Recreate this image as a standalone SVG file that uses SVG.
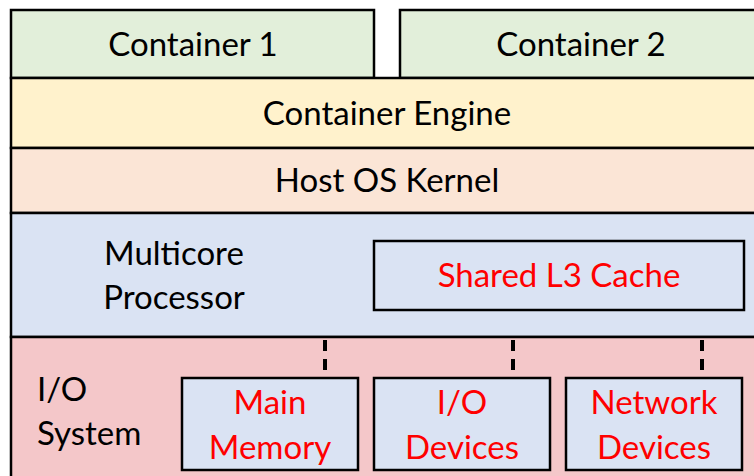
<svg xmlns="http://www.w3.org/2000/svg" width="754" height="476" viewBox="0 0 754 476">
<style>
.b{stroke:#000;stroke-width:2.5}
.t{font-family:Lato,"Open Sans","Liberation Sans",sans-serif;font-size:33px;fill:#000}
.r{fill:#FF0000}
.m{text-anchor:middle}
.d{stroke:#000;stroke-width:4;stroke-dasharray:11,8;fill:none}
</style>
<rect width="754" height="476" fill="#fff"/>
<g id="container1"><rect class="b" x="11" y="10" width="363" height="68" fill="#E2EFDA"/><text class="t m" x="193" y="56">Container 1</text></g>
<g id="container2"><rect class="b" x="400" y="10" width="360" height="68" fill="#E2EFDA"/><text class="t m" x="581" y="56">Container 2</text></g>
<g id="engine"><rect class="b" x="11" y="78" width="750" height="70" fill="#FFF2CC"/><text class="t m" x="387" y="125">Container Engine</text></g>
<g id="kernel"><rect class="b" x="11" y="148" width="750" height="65" fill="#FBE5D6"/><text class="t m" x="387" y="192">Host OS Kernel</text></g>
<g id="processor"><rect class="b" x="11" y="213" width="750" height="124" fill="#DAE3F3"/><text class="t m" x="174" y="265">Multicore</text><text class="t m" x="174" y="309">Processor</text></g>
<g id="l3"><rect class="b" x="374" y="241" width="370" height="69" fill="#DAE3F3"/><text class="t r m" x="559" y="287">Shared L3 Cache</text></g>
<g id="io"><rect class="b" x="11" y="337" width="750" height="145" fill="#F4C7C9"/><text class="t" x="37" y="401">I/O</text><text class="t" x="37" y="445">System</text></g>
<g id="connectors"><line class="d" x1="325" y1="340" x2="325" y2="378"/><line class="d" x1="513" y1="340" x2="513" y2="378"/><line class="d" x1="702" y1="340" x2="702" y2="378"/></g>
<g id="mainmem"><rect class="b" x="182" y="378" width="176" height="92" fill="#DAE3F3"/><text class="t r m" x="270" y="414">Main</text><text class="t r m" x="270" y="459">Memory</text></g>
<g id="iodev"><rect class="b" x="374" y="378" width="176" height="92" fill="#DAE3F3"/><text class="t r m" x="462" y="414">I/O</text><text class="t r m" x="462" y="459">Devices</text></g>
<g id="netdev"><rect class="b" x="566" y="378" width="176" height="92" fill="#DAE3F3"/><text class="t r m" x="654" y="414">Network</text><text class="t r m" x="654" y="459">Devices</text></g>
</svg>
